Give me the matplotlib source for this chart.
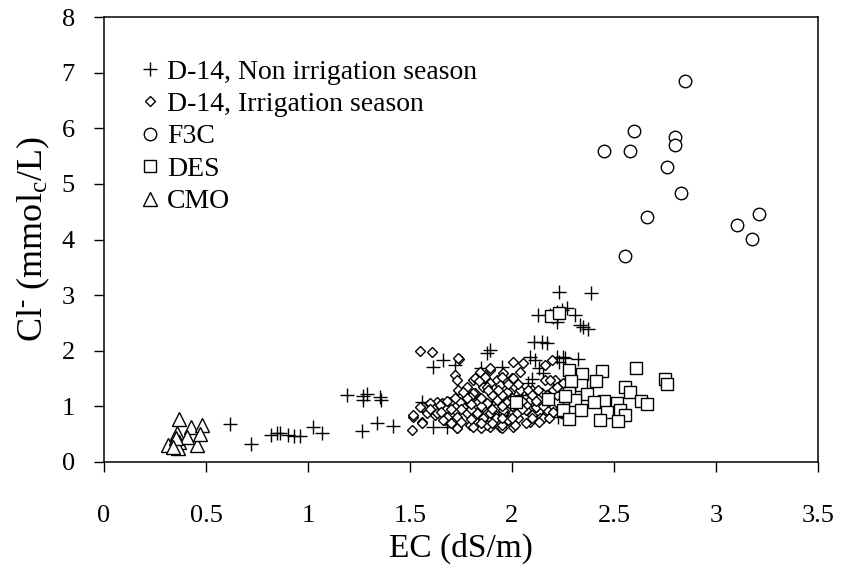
import matplotlib
matplotlib.use("Agg")
import matplotlib.pyplot as plt

plt.rcParams['font.family'] = ['Liberation Serif', 'DejaVu Serif']
plt.rcParams['mathtext.fontset'] = 'custom'
plt.rcParams['mathtext.rm'] = 'Liberation Serif'
plt.rcParams['mathtext.it'] = 'Liberation Serif:italic'

# D-14, Non irrigation season
non_irr_ec = [0.62, 0.72, 0.82, 0.846, 0.862, 0.904, 0.93, 0.96, 1.026, 1.067,
              1.19, 1.27, 1.27, 1.29, 1.353, 1.36, 1.263, 1.337, 1.415,
              1.557, 1.614, 1.663, 1.72, 1.85, 1.876, 1.89, 1.95, 1.614, 1.68,
              2.088, 2.113, 2.13, 2.08, 2.219, 2.25, 2.26, 2.325, 2.23, 2.2, 2.227,
              2.11, 2.145, 2.17,
              2.232, 2.387, 2.129, 2.186, 2.219, 2.244, 2.268, 2.219, 2.309,
              2.333, 2.35, 2.374, 2.2, 2.22,
              1.76, 1.9, 1.97, 2.05, 2.1, 2.15, 2.2, 2.25, 2.15, 2.27]
non_irr_cl = [0.68, 0.32, 0.485, 0.515, 0.53, 0.485, 0.47, 0.47, 0.635, 0.53,
              1.205, 1.19, 1.11, 1.23, 1.175, 1.11, 0.565, 0.695, 0.65,
              1.085, 1.70, 1.83, 1.745, 1.685, 1.965, 2.01, 1.70, 0.635, 0.635,
              1.895, 1.835, 1.685, 1.415, 1.895, 1.895, 1.87, 1.847, 1.80, 0.935, 0.815,
              2.165, 2.165, 2.135,
              3.06, 3.045, 2.64, 2.64, 2.70, 2.73, 2.76, 2.52, 2.64,
              2.46, 2.43, 2.39, 2.60, 2.60,
              1.06, 1.10, 0.75, 1.20, 1.50, 1.60, 1.30, 1.00, 0.85, 0.80]

# D-14, Irrigation season
irr_ec = [1.549, 1.606, 1.74, 1.72, 1.73, 1.737, 1.508, 1.516, 1.557, 1.557,
          1.59, 1.63, 1.622, 1.655, 1.696, 1.672, 1.73, 1.696, 1.76, 1.81,
          1.843, 1.89, 1.82, 1.794, 1.86, 1.89, 1.925, 1.86, 1.89, 1.827,
          1.794, 1.85, 1.89, 1.94, 1.957, 1.925, 1.957, 1.917, 1.966,
          2.006, 2.055, 2.04, 2.16, 2.194, 1.957, 1.998, 2.16, 2.21, 2.25,
          1.957, 1.99, 2.10, 2.146, 1.974, 2.088, 2.12, 2.07, 2.006, 1.957,
          1.974, 2.03, 2.088, 2.137, 2.17, 2.194, 2.006, 1.95, 2.17, 2.219,
          1.737, 1.82, 1.89, 1.87, 1.95, 2.006, 2.186, 1.777, 1.81, 1.876,
          1.94, 1.974, 2.04, 2.088, 2.129, 2.17, 1.565, 1.598, 1.647, 1.696,
          1.745, 1.794, 1.835, 1.876, 1.925, 1.974, 2.07, 2.12, 2.17, 1.582,
          1.63, 1.68, 1.73, 1.777, 1.826, 1.89, 1.957, 2.023, 2.10, 2.153,
          1.557, 1.663, 1.73, 1.81, 1.876, 1.95, 2.015, 2.07, 2.13, 1.86,
          1.92, 1.98, 1.516, 1.549,
          1.85, 1.9, 1.95, 2.0, 1.8, 1.75, 1.7, 1.85, 1.9, 1.95, 2.0, 2.05,
          1.8, 1.78, 1.88, 1.93, 1.98, 2.03, 2.08, 2.1, 2.05, 2.1, 2.0, 1.95,
          1.85, 1.9, 1.8, 1.75, 1.7, 1.65, 1.6, 1.68, 1.72, 1.76, 1.84, 2.12,
          2.15, 2.18, 2.2, 2.2, 2.22]
irr_cl = [2.00, 1.97, 1.86, 1.565, 1.475, 1.295, 0.575, 0.815, 0.725, 0.995,
          1.025, 1.085, 0.845, 1.055, 1.085, 0.755, 0.605, 0.845, 0.995, 1.475,
          1.625, 1.655, 1.235, 1.115, 1.355, 1.415, 1.475, 0.995, 0.755, 0.695,
          0.665, 0.605, 0.635, 0.635, 0.845, 0.995, 1.115, 1.205, 1.295,
          1.805, 1.775, 1.625, 1.745, 1.835, 1.595, 1.505, 1.475, 1.475, 1.415,
          1.355, 1.265, 1.295, 1.235, 1.115, 1.115, 0.995, 0.935, 0.905, 0.875,
          0.755, 0.785, 0.725, 0.785, 0.875, 0.965, 0.635, 0.605, 1.07, 1.205,
          1.865, 1.505, 1.685, 1.535, 1.535, 1.505, 1.475, 1.355, 1.235, 1.355,
          1.385, 1.265, 1.295, 1.235, 1.295, 1.205, 0.995, 1.055, 1.025, 1.085,
          1.085, 1.175, 1.085, 1.055, 1.115, 1.085, 1.025, 0.995, 0.935, 0.875,
          0.875, 0.815, 0.815, 0.875, 0.875, 0.875, 0.935, 0.875, 0.845, 0.785,
          0.695, 0.755, 0.605, 0.635, 0.665, 0.665, 0.665, 0.695, 0.725, 0.80,
          0.80, 0.75, 0.845, 0.995,
          1.0, 0.95, 1.0, 1.0, 0.95, 0.95, 0.95, 1.15, 1.2, 1.2, 1.15, 1.1,
          1.05, 1.15, 1.3, 1.3, 1.4, 1.4, 1.3, 1.2, 0.95, 0.8, 0.8, 0.8,
          0.7, 0.7, 0.78, 0.72, 0.7, 0.9, 0.95, 1.1, 1.15, 1.25, 1.45, 1.1,
          1.0, 0.8, 0.9, 1.3, 1.35]

# F3C
f3c_ec = [2.45, 2.58, 2.60, 2.85, 2.80, 2.80, 2.758, 2.83, 2.66, 2.555, 3.105, 3.21, 3.176]
f3c_cl = [5.60, 5.60, 5.95, 6.85, 5.85, 5.70, 5.31, 4.83, 4.40, 3.70, 4.26, 4.45, 4.01]

# DES
des_ec = [2.19, 2.23, 2.28, 2.345, 2.44, 2.61, 2.75, 2.76, 2.02, 2.175, 2.34, 2.41,
          2.29, 2.37, 2.28, 2.555, 2.58, 2.63, 2.66, 2.515, 2.45, 2.40, 2.31, 2.25,
          2.34, 2.465, 2.53, 2.555, 2.28, 2.43, 2.52, 2.26]
des_cl = [2.63, 2.68, 1.66, 1.58, 1.64, 1.69, 1.49, 1.41, 1.085, 1.13, 1.39, 1.45,
          1.46, 1.22, 1.24, 1.355, 1.25, 1.10, 1.04, 1.055, 1.10, 1.085, 1.11, 0.935,
          0.935, 0.905, 0.935, 0.84, 0.77, 0.755, 0.745, 1.18]

# CMO
cmo_ec = [0.368, 0.425, 0.479, 0.36, 0.37, 0.315, 0.454, 0.364, 0.405, 0.353, 0.47, 0.34]
cmo_cl = [0.77, 0.635, 0.665, 0.52, 0.365, 0.305, 0.305, 0.246, 0.455, 0.43, 0.50, 0.275]

fig = plt.figure(figsize=(8.42, 5.72), dpi=100)
ax = fig.add_axes([104/842, 1-462/572, (818-104)/842, (462-17)/572])

ax.plot(non_irr_ec, non_irr_cl, linestyle='none', marker='+', ms=10, mew=1.0,
        color='black', label='D-14, Non irrigation season')
ax.plot(irr_ec, irr_cl, linestyle='none', marker='D', ms=5.5, mew=1.0,
        mec='black', mfc='white', label='D-14, Irrigation season')
ax.plot(f3c_ec, f3c_cl, linestyle='none', marker='o', ms=9, mew=1.0,
        mec='black', mfc='white', label='F3C')
ax.plot(des_ec, des_cl, linestyle='none', marker='s', ms=8.8, mew=1.0,
        mec='black', mfc='white', label='DES')
ax.plot(cmo_ec, cmo_cl, linestyle='none', marker='^', ms=9.4, mew=1.0,
        mec='black', mfc='white', label='CMO')

ax.set_xlim(0, 3.5)
ax.set_ylim(0, 8)
ax.set_xticks([0, 0.5, 1, 1.5, 2, 2.5, 3, 3.5])
ax.set_xticklabels(['0', '0.5', '1', '1.5', '2', '2.5', '3', '3.5'])
ax.set_yticks(range(0, 9))
ax.tick_params(axis='both', direction='out', length=7, width=1, labelsize=19,
               top=False, right=False)
ax.tick_params(axis='x', pad=24)
ax.tick_params(axis='y', pad=14)
for s in ax.spines.values():
    s.set_linewidth(1.1)

ax.set_xlabel('EC (dS/m)', fontsize=24, labelpad=4)
ax.set_ylabel(r'Cl$^{\text{-}}$ (mmol$_{\mathrm{c}}$/L)', fontsize=26, labelpad=7)

leg = ax.legend(loc='upper left', bbox_to_anchor=(0.049, 0.905), frameon=False,
                fontsize=20, handlelength=0.8, handletextpad=0.2,
                labelspacing=0.25, borderaxespad=0, borderpad=0, markerscale=1.0)

fig.savefig('out.png', dpi=100)
